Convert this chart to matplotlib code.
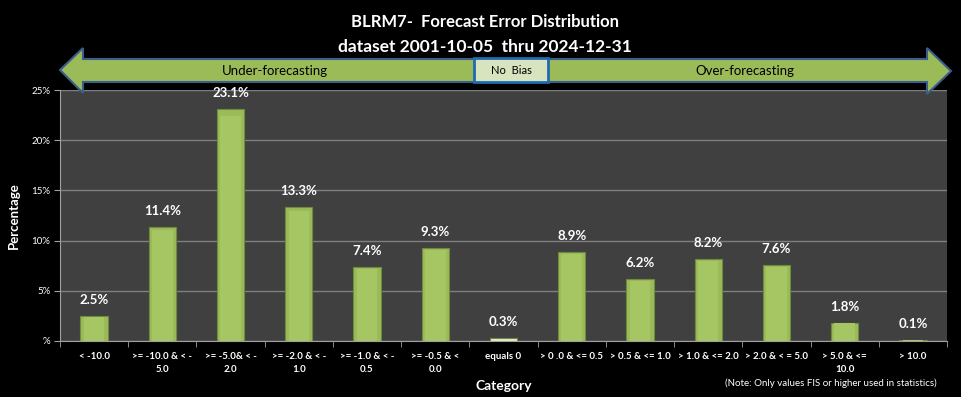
import matplotlib
matplotlib.use("Agg")
import matplotlib.pyplot as plt
from matplotlib.patches import Polygon, Rectangle
import numpy as np

categories = ["< -10.0", ">= -10.0 & < -\n5.0", ">= -5.0& < -\n2.0", ">= -2.0 & < -\n1.0",
              ">= -1.0 & < -\n0.5", ">= -0.5 & <\n0.0", "equals 0", "> 0 .0 & <= 0.5",
              "> 0.5 & <= 1.0", "> 1.0 & <= 2.0", "> 2.0 & < = 5.0", "> 5.0 & <=\n10.0", "> 10.0"]
values = [2.5, 11.4, 23.1, 13.3, 7.4, 9.3, 0.3, 8.9, 6.2, 8.2, 7.6, 1.8, 0.1]
yticks = [0, 5, 10, 15, 20, 25]
ytick_labels = ["%", "5%", "10%", "15%", "20%", "25%"]
title_lines = ["BLRM7-  Forecast Error Distribution", "dataset 2001-10-05  thru 2024-12-31"]

W, H = 961, 397
fig = plt.figure(figsize=(W / 100, H / 100), dpi=100, facecolor="black")
plt.rcParams['font.family'] = ['Lato', 'DejaVu Sans']

ax = fig.add_axes([60 / W, (H - 341) / H, (947 - 60) / W, (341 - 90) / H])
ax.set_facecolor("#404040")
x = np.arange(len(categories))
bar_colors = ["#9bbb59"] * len(values)
bar_colors[6] = "#e4ecd2"
ax.bar(x, values, width=0.4, color=bar_colors, edgecolor="#6f8a3c", linewidth=0.8, zorder=3)
# subtle inner highlight (skip the tiny light bar)
hl_vals = [v * 0.97 if c == "#9bbb59" else 0 for v, c in zip(values, bar_colors)]
ax.bar(x, hl_vals, width=0.3, color="#a6c563", linewidth=0, zorder=3.5)
for xi, v in zip(x, values):
    ax.text(xi, v + 1.0, f"{v:.1f}%", ha="center", va="bottom", color="white",
            fontsize=9.5, fontweight="bold", zorder=4)

ax.set_xlim(-0.5, len(categories) - 0.5)
ax.set_ylim(0, 25)
ax.set_yticks(yticks)
ax.set_yticklabels(ytick_labels)
ax.yaxis.grid(True, color="#7f7f7f", linewidth=1.0, zorder=0)
ax.set_axisbelow(True)
ax.set_xticks(x)
ax.set_xticklabels(categories, fontsize=7, color="white", fontweight="bold", linespacing=1.6)
ax.set_xticks(np.arange(len(categories) + 1) - 0.5, minor=True)
ax.tick_params(axis="x", which="major", length=0, pad=8)
ax.tick_params(axis="x", which="minor", length=4, color="#a0a0a0")
ax.tick_params(axis="y", length=4, color="#a0a0a0", labelsize=7, labelcolor="white", pad=3)
for s in ["top", "right"]:
    ax.spines[s].set_visible(False)
ax.spines["left"].set_color("#a0a0a0")
ax.spines["bottom"].set_color("#a0a0a0")
ax.set_ylabel("Percentage", color="white", fontsize=9.5, fontweight="bold", labelpad=8)
ax.set_xlabel("Category", color="white", fontsize=10, fontweight="bold", labelpad=4)

# overlay in pixel coordinates
ov = fig.add_axes([0, 0, 1, 1], facecolor="none")
ov.set_xlim(0, W)
ov.set_ylim(H, 0)
ov.axis("off")

arrow = Polygon([(60, 70), (83, 48), (83, 59), (927, 59), (927, 48), (951, 71),
                 (927, 94), (927, 82), (83, 82), (83, 93)], closed=True,
                facecolor="#9bbb59", edgecolor="#3b5e8c", linewidth=1.5, zorder=2)
ov.add_patch(arrow)
ov.add_patch(Rectangle((474, 58), 74, 24, facecolor="#d7e4bd", edgecolor="#1f6bb0",
                       linewidth=2, zorder=3))
ov.text(511, 71, "No  Bias", ha="center", va="center", fontsize=8, color="black", zorder=4)
ov.text(275, 71, "Under-forecasting", ha="center", va="center", fontsize=9.5, color="black", zorder=4)
ov.text(745, 71, "Over-forecasting", ha="center", va="center", fontsize=9.5, color="black", zorder=4)

ov.text(485, 22, title_lines[0], ha="center", va="center", fontsize=12, fontweight="bold", color="white")
ov.text(485, 47, title_lines[1], ha="center", va="center", fontsize=12.5, fontweight="bold", color="white")
ov.text(937, 383, "(Note: Only values FIS or higher used in statistics)", ha="right", va="center",
        fontsize=7, color="white")

fig.savefig("out.png", dpi=100, facecolor="black")
